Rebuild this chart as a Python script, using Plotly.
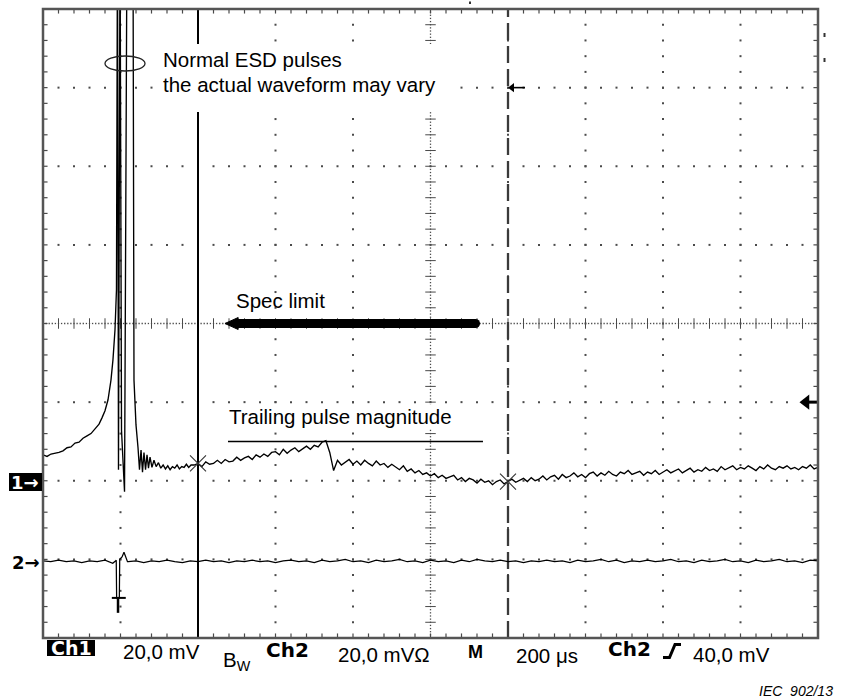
import numpy as np
import plotly.graph_objects as go

# ---------------- data (oscilloscope screen units: x in divisions 0..10, y in divisions -4..4) ----------------
# Ch1: pre-trigger rise, ESD spikes and ringing
ch1_head_x = [0.000, 0.052, 0.103, 0.155, 0.206, 0.258, 0.310, 0.361, 0.413, 0.465, 0.516, 0.568,
              0.619, 0.671, 0.723, 0.761, 0.800, 0.839, 0.877, 0.903, 0.929, 0.948,
              0.961, 0.974, 0.994, 1.013, 1.052, 1.084, 1.161, 1.174, 1.200, 1.226, 1.245, 1.265,
              1.284, 1.303, 1.323, 1.342, 1.361, 1.381, 1.406, 1.432,
              1.46, 1.49, 1.52, 1.55, 1.58, 1.61, 1.64, 1.67, 1.70, 1.73, 1.76, 1.79, 1.82, 1.85, 1.88, 1.91]
ch1_head_y = [-1.67, -1.69, -1.66, -1.65, -1.64, -1.62, -1.58, -1.57, -1.52, -1.51, -1.46, -1.43,
              -1.40, -1.34, -1.28, -1.20, -1.11, -0.97, -0.72, -0.46, -0.08, 0.43,
              5.0, -1.86, 5.0, -1.36, -2.14, 5.0, 5.0, -0.72, -1.29, -1.58, -1.86, -1.61,
              -1.89, -1.64, -1.86, -1.67, -1.84, -1.70, -1.83, -1.74,
              -1.82, -1.77, -1.84, -1.80, -1.85, -1.81, -1.86, -1.82, -1.84, -1.80, -1.85, -1.82, -1.83, -1.79, -1.83, -1.80]
# Ch1 samples from x = 1.95 div, one every 0.05 div
ch1_tail_start = 1.95
ch1_tail_step = 0.05
ch1_tail_y = [
    # 1.95 .. 3.65 (slow rise)
    -1.80, -1.78, -1.82, -1.76, -1.79, -1.78, -1.74, -1.78, -1.73, -1.76, -1.75, -1.70, -1.74, -1.71,
    -1.69, -1.73, -1.67, -1.70, -1.66, -1.69, -1.64, -1.63, -1.67, -1.60, -1.65, -1.61, -1.58, -1.63,
    -1.59, -1.56, -1.60, -1.55, -1.57, -1.51, -1.49,
    # 3.70 .. 3.75 (step down)
    -1.64, -1.87,
    # 3.80 .. 4.95
    -1.74, -1.80, -1.77, -1.73, -1.79, -1.75, -1.80, -1.74, -1.78, -1.81, -1.75, -1.80,
    -1.78, -1.83, -1.79, -1.82, -1.86, -1.81, -1.88, -1.85, -1.90, -1.87, -1.92, -1.90,
    # 5.00 .. 6.00
    -1.94, -1.91, -1.96, -1.93, -1.97, -1.95, -1.93, -1.99, -1.96, -2.01, -1.97, -1.99,
    -2.03, -1.98, -2.02, -2.00, -2.05, -2.01, -1.99, -2.04, -2.01,
    # 6.05 .. 10.00
    -1.98, -2.02, -1.99, -1.97, -2.01, -1.96, -2.00, -1.98, -1.94, -1.99,
    -1.95, -1.93, -1.98, -1.92, -1.96, -1.94, -1.90, -1.95, -1.92, -1.96,
    -1.91, -1.89, -1.94, -1.90, -1.93, -1.88, -1.92, -1.94, -1.89, -1.91,
    -1.87, -1.92, -1.90, -1.88, -1.93, -1.89, -1.91, -1.87, -1.92, -1.89,
    -1.86, -1.90, -1.88, -1.85, -1.90, -1.87, -1.84, -1.89, -1.86, -1.88,
    -1.83, -1.87, -1.85, -1.88, -1.82, -1.86, -1.84, -1.81, -1.86, -1.83,
    -1.85, -1.81, -1.84, -1.87, -1.82, -1.85, -1.80, -1.84, -1.86, -1.82,
    -1.84, -1.81, -1.85, -1.83, -1.86, -1.82, -1.84, -1.80, -1.85, -1.83,
]
# Ch2: flat trace with trigger glitch
ch2_head_x = [0.0, 0.1, 0.2, 0.3, 0.4, 0.5, 0.6, 0.7, 0.8, 0.9, 0.935, 0.945, 0.95, 0.985, 0.99,
              1.02, 1.045, 1.07, 1.09]
ch2_head_y = [-3.02, -3.03, -3.01, -3.03, -3.02, -3.04, -3.02, -3.03, -3.01, -3.05, -3.02, -3.01,
              -3.49, -3.49, -3.00, -2.97, -2.91, -2.99, -3.03]
ch2_tail_start = 1.1
ch2_tail_step = 0.1
ch2_tail_y = [
    -3.03, -3.02, -3.04, -3.02, -3.03, -3.01, -3.03, -3.04, -3.02, -3.03,
    -3.01, -3.03, -3.02, -3.04, -3.02, -3.03, -3.01, -3.03, -3.02, -3.04,
    -3.02, -3.01, -3.03, -3.02, -3.04, -3.01, -3.03, -3.02, -3.00, -3.03,
    -3.02, -3.04, -3.01, -3.03, -3.02, -3.00, -3.03, -3.02, -3.04, -3.01,
    -3.03, -3.02, -3.04, -3.01, -3.03, -3.00, -3.02, -3.03, -3.01, -3.03,
    -3.02, -3.04, -3.02, -3.03, -3.01, -3.03, -3.02, -3.04, -3.01, -3.03,
    -3.02, -3.00, -3.03, -3.01, -3.04, -3.02, -3.03, -3.01, -3.03, -3.02,
    -3.00, -3.03, -3.02, -3.04, -3.01, -3.03, -3.02, -3.00, -3.03, -3.02,
    -3.04, -3.01, -3.03, -3.02, -3.00, -3.03, -3.02, -3.04, -3.01, -3.02,
]

cursor_x = [2.0, 6.0]
cursor_hit_y = [-1.78, -2.01]
ch1_ref_level = -2.0
ch2_ref_level = -3.0
trigger_level = -1.0
trigger_pos = 0.968
spec_level = 0.0
spec_x = [2.348, 5.639]
trailing_level = -1.50
trailing_x = [2.387, 5.677]

bottom_labels = ["20,0 mV", "B<sub>W</sub>", "20,0 mVΩ", "M", "200 μs", "40,0 mV"]
source_note = "IEC  902/13"

# ---------------- geometry ----------------
W, H = 843, 700
L, R, T, B = 43, 818, 9, 638
XDIV = (R - L) / 10.0
YDIV = (B - T) / 8.0
YMID = (T + B) / 2.0


def px(xp):      # pixel x -> division
    return (xp - L) / XDIV


def py(yp):      # pixel y -> division
    return (YMID - yp) / YDIV


def ppx(xp):     # pixel x -> paper
    return (xp - L) / (R - L)


def ppy(yp):     # pixel y -> paper
    return (B - yp) / (B - T)


ch1_x = ch1_head_x + [round(ch1_tail_start + i * ch1_tail_step, 3) for i in range(len(ch1_tail_y))]
ch1_y = ch1_head_y + ch1_tail_y
ch2_x = ch2_head_x + [round(ch2_tail_start + i * ch2_tail_step, 3) for i in range(len(ch2_tail_y))]
ch2_y = ch2_head_y + ch2_tail_y

fig = go.Figure()
GRID = "#4a4a4a"

# ---- graticule dots ----
minor = 0.2
gx, gy = [], []
for k in range(1, 10):
    if k == 5:
        continue
    for j in range(1, 40):
        gx.append(k)
        gy.append(-4 + j * minor)
for m in range(-3, 4):
    if m == 0:
        continue
    for j in range(1, 50):
        gx.append(j * minor)
        gy.append(m)
fig.add_trace(go.Scatter(x=gx, y=gy, mode="markers", hoverinfo="skip",
                         marker=dict(symbol="square", size=2, color=GRID)))

# centre lines: fine dots
fine_y = list(np.round(np.arange(-4, 4.0001, 0.04), 3))
fine_x = list(np.round(np.arange(0, 10.0001, 0.04), 3))
fig.add_trace(go.Scatter(x=[5] * len(fine_y) + fine_x, y=fine_y + [0] * len(fine_x), mode="markers",
                         hoverinfo="skip", marker=dict(symbol="square", size=1.3, color=GRID)))
# centre line ticks
tick_x = [round(j * minor, 3) for j in range(1, 50)]
tick_y = [round(-4 + j * minor, 3) for j in range(1, 40)]
fig.add_trace(go.Scatter(x=tick_x, y=[0] * len(tick_x), mode="markers", hoverinfo="skip",
                         marker=dict(symbol="line-ns", size=7.5, line=dict(width=1, color=GRID))))
fig.add_trace(go.Scatter(x=[5] * len(tick_y), y=tick_y, mode="markers", hoverinfo="skip",
                         marker=dict(symbol="line-ew", size=7.5, line=dict(width=1, color=GRID))))
# border ticks (half clipped -> inward only)
fig.add_trace(go.Scatter(x=tick_x + tick_x, y=[4] * len(tick_x) + [-4] * len(tick_x), mode="markers",
                         hoverinfo="skip", marker=dict(symbol="line-ns", size=6.5, line=dict(width=1.2, color=GRID))))
fig.add_trace(go.Scatter(x=[0] * len(tick_y) + [10] * len(tick_y), y=tick_y + tick_y, mode="markers",
                         hoverinfo="skip", marker=dict(symbol="line-ew", size=6.5, line=dict(width=1.2, color=GRID))))

# ---- cursors ----
fig.add_trace(go.Scatter(x=[cursor_x[0]] * 2, y=[-4, 4], mode="lines", hoverinfo="skip",
                         line=dict(color="black", width=2)))
fig.add_trace(go.Scatter(x=[cursor_x[1]] * 2, y=[-4, 4], mode="lines", hoverinfo="skip",
                         line=dict(color="#3a3a3a", width=2.3, dash="17px,6px")))

# ---- waveforms ----
fig.add_trace(go.Scatter(x=ch2_x, y=ch2_y, mode="lines", hoverinfo="skip",
                         line=dict(color="black", width=1.25)))
fig.add_trace(go.Scatter(x=ch1_x, y=ch1_y, mode="lines", hoverinfo="skip",
                         line=dict(color="black", width=1.35)))

# cursor crossing markers
fig.add_trace(go.Scatter(x=cursor_x, y=cursor_hit_y, mode="markers", hoverinfo="skip",
                         marker=dict(symbol="x-thin", size=16, line=dict(width=1.1, color="#333"))))

# trailing pulse magnitude line
fig.add_trace(go.Scatter(x=trailing_x, y=[trailing_level] * 2, mode="lines", hoverinfo="skip",
                         line=dict(color="black", width=1.5)))

# spec limit bar
fig.add_trace(go.Scatter(x=[spec_x[0] + 0.15, spec_x[1] - 0.058], y=[spec_level] * 2, mode="lines",
                         hoverinfo="skip", line=dict(color="black", width=9)))
fig.add_trace(go.Scatter(x=[spec_x[1] - 0.058], y=[spec_level], mode="markers", hoverinfo="skip",
                         marker=dict(symbol="circle", size=9, color="black")))

# trigger level arrow (right edge)
fig.add_trace(go.Scatter(x=[px(806), 10], y=[trigger_level] * 2, mode="lines", hoverinfo="skip",
                         line=dict(color="black", width=3)))
fig.add_trace(go.Scatter(x=[px(806)], y=[trigger_level], mode="markers", hoverinfo="skip",
                         marker=dict(symbol="triangle-left", size=13, color="black")))
# small arrow at second cursor
fig.add_trace(go.Scatter(x=[px(512), px(525)], y=[3.0, 3.0], mode="lines", hoverinfo="skip",
                         line=dict(color="black", width=1.6)))
fig.add_trace(go.Scatter(x=[px(512)], y=[3.0], mode="markers", hoverinfo="skip",
                         marker=dict(symbol="triangle-left", size=8, color="black")))

shapes = []
# white backing behind the ESD note
shapes.append(dict(type="rect", xref="x", yref="y", x0=px(155), x1=px(448), y0=py(112), y1=py(44),
                   fillcolor="white", line=dict(width=0), layer="above"))
# ellipse around the pulses
shapes.append(dict(type="circle", xref="x", yref="y", x0=px(105), x1=px(145), y0=py(71), y1=py(56),
                   line=dict(color="#222", width=1.3), layer="above"))
# spec limit arrow tip
shapes.append(dict(type="path", xref="x", yref="y",
                   path=f"M {spec_x[0]},{spec_level} L {spec_x[0] + 0.17},{spec_level + 0.076} "
                        f"L {spec_x[0] + 0.17},{spec_level - 0.076} Z",
                   fillcolor="black", line=dict(color="black", width=1), layer="above"))
# trigger position "T"
shapes.append(dict(type="line", xref="x", yref="y", x0=trigger_pos - 0.08, x1=trigger_pos + 0.1,
                   y0=ch2_ref_level - 0.49, y1=ch2_ref_level - 0.49, line=dict(color="black", width=2),
                   layer="above"))
shapes.append(dict(type="line", xref="x", yref="y", x0=trigger_pos, x1=trigger_pos,
                   y0=ch2_ref_level - 0.49, y1=ch2_ref_level - 0.68, line=dict(color="black", width=2.5),
                   layer="above"))
# frame
shapes.append(dict(type="rect", xref="paper", yref="paper", x0=0, x1=1, y0=0, y1=1,
                   line=dict(color="#555", width=2.5), layer="above"))
# channel 1 marker box
shapes.append(dict(type="rect", xref="paper", yref="paper", x0=ppx(9), x1=ppx(42), y0=ppy(491), y1=ppy(473),
                   fillcolor="black", line=dict(width=0)))
# Ch1 label box
shapes.append(dict(type="rect", xref="paper", yref="paper", x0=ppx(47), x1=ppx(95), y0=ppy(656), y1=ppy(640),
                   fillcolor="black", line=dict(width=0)))
# trigger slope glyph
pts = [(663, 657.5), (669.5, 657.5), (675, 644.5), (681, 644.5)]
path = "M " + " L ".join(f"{ppx(a):.5f},{ppy(b):.5f}" for a, b in pts)
shapes.append(dict(type="path", xref="paper", yref="paper", path=path,
                   line=dict(color="black", width=3)))
# small screen artefacts outside the graticule
for (a, b0, b1) in [(470, 1.5, 4), (824.5, 33, 37), (824.5, 58, 62)]:
    shapes.append(dict(type="rect", xref="paper", yref="paper", x0=ppx(a - 1), x1=ppx(a + 1),
                       y0=ppy(b1), y1=ppy(b0), fillcolor="#333", line=dict(width=0)))

SANS = "Liberation Sans, Arial, sans-serif"
BOLD = "DejaVu Sans, Verdana, sans-serif"
anns = []


def ann(text, x, y, size, family=SANS, color="black", xanchor="left", xref="x", yref="y", **kw):
    anns.append(dict(text=text, x=x, y=y, xref=xref, yref=yref, showarrow=False, xanchor=xanchor,
                     yanchor="middle", font=dict(family=family, size=size, color=color),
                     borderpad=0, **kw))


ann("Normal ESD pulses", px(162), py(59.5), 20.5)
ann("the actual waveform may vary", px(162), py(84.5), 20.5)
ann("Spec limit", px(235), py(300.5), 20.5)
ann("Trailing pulse magnitude", px(228), py(416.5), 20.5, bgcolor="white")

# channel reference markers
ann("<b>1→</b>", ppx(10), ppy(482), 18, family=BOLD, color="white", xref="paper", yref="paper")
ann("<b>2→</b>", ppx(11), ppy(562), 18, family=BOLD, xref="paper", yref="paper")

# status line
ann("<b>Ch1</b>", ppx(71), ppy(648), 19, family=BOLD, color="white", xanchor="center",
    xref="paper", yref="paper")
ann(bottom_labels[0], ppx(122), ppy(651.5), 20.5, xref="paper", yref="paper")
ann(bottom_labels[1], ppx(222), ppy(661), 20.5, xref="paper", yref="paper")
ann("<b>Ch2</b>", ppx(265), ppy(650), 20, family=BOLD, xref="paper", yref="paper")
ann(bottom_labels[2], ppx(337), ppy(654.5), 20.5, xref="paper", yref="paper")
ann("<b>" + bottom_labels[3] + "</b>", ppx(467), ppy(651.5), 18, family=SANS, xref="paper", yref="paper")
ann(bottom_labels[4], ppx(515), ppy(655), 20.5, xref="paper", yref="paper")
ann("<b>Ch2</b>", ppx(607), ppy(649), 20, family=BOLD, xref="paper", yref="paper")
ann(bottom_labels[5], ppx(692), ppy(654.5), 20.5, xref="paper", yref="paper")
ann("<i>" + source_note + "</i>", ppx(834), ppy(691), 14, xanchor="right", xref="paper", yref="paper")

fig.update_layout(
    width=W, height=H,
    margin=dict(l=L, r=W - R, t=T, b=H - B, pad=0, autoexpand=False),
    paper_bgcolor="white", plot_bgcolor="white",
    showlegend=False, hovermode=False,
    shapes=shapes, annotations=anns,
)
fig.update_xaxes(range=[0, 10], visible=False, fixedrange=True)
fig.update_yaxes(range=[-4, 4], visible=False, fixedrange=True)

fig.write_html("out.html", config={"displayModeBar": False},
               post_script="document.body.style.margin='0px';document.body.style.overflow='hidden';")
